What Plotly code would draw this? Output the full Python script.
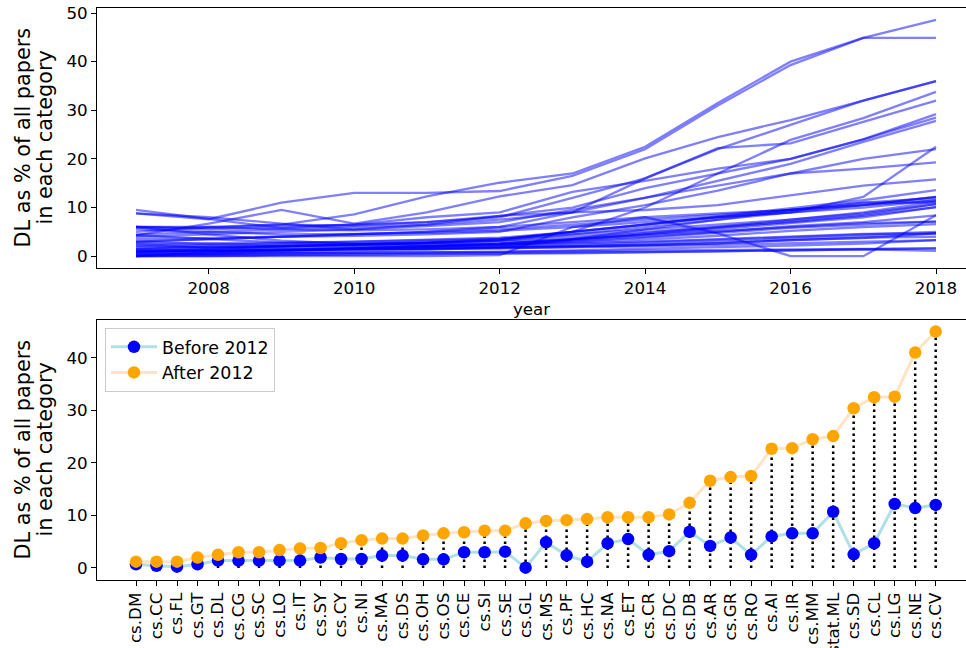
import plotly.graph_objects as go

# ---------------- data ----------------
years = [2007, 2008, 2009, 2010, 2011, 2012, 2013, 2014, 2015, 2016, 2017, 2018]

categories = ["cs.DM", "cs.CC", "cs.FL", "cs.GT", "cs.DL", "cs.CG", "cs.SC", "cs.LO", "cs.IT", "cs.SY",
              "cs.CY", "cs.NI", "cs.MA", "cs.DS", "cs.OH", "cs.OS", "cs.CE", "cs.SI", "cs.SE", "cs.GL",
              "cs.MS", "cs.PF", "cs.HC", "cs.NA", "cs.ET", "cs.CR", "cs.DC", "cs.DB", "cs.AR", "cs.GR",
              "cs.RO", "cs.AI", "cs.IR", "cs.MM", "stat.ML", "cs.SD", "cs.CL", "cs.LG", "cs.NE", "cs.CV"]

before_2012 = [0.7, 0.4, 0.25, 0.7, 1.4, 1.4, 1.4, 1.4, 1.4, 2.0,
               1.7, 1.7, 2.35, 2.35, 1.65, 1.65, 3.0, 3.0, 3.1, 0.06,
               4.9, 2.4, 1.2, 4.7, 5.5, 2.5, 3.2, 6.9, 4.2, 5.8,
               2.5, 6.0, 6.6, 6.6, 10.7, 2.6, 4.7, 12.2, 11.4, 12.0]

after_2012 = [1.2, 1.2, 1.2, 2.0, 2.5, 3.0, 3.0, 3.4, 3.7, 3.8,
              4.7, 5.3, 5.6, 5.6, 6.2, 6.6, 6.8, 7.1, 7.1, 8.5,
              8.95, 9.1, 9.3, 9.65, 9.65, 9.65, 10.2, 12.4, 16.6, 17.3,
              17.5, 22.7, 22.8, 24.5, 25.1, 30.4, 32.5, 32.6, 41.0, 45.0]

# yearly DL share per category (2007..2018), same order as `categories`
yearly_share = [
    [0.3, 0.5, 0.6, 0.7, 0.8, 0.9, 1.0, 1.1, 1.2, 1.3, 1.5, 1.6],        # cs.DM
    [0.0, 0.2, 0.3, 0.4, 0.5, 0.6, 0.8, 0.9, 1.0, 1.2, 1.4, 1.1],        # cs.CC
    [0.0, 0.0, 0.2, 0.3, 0.3, 0.4, 0.6, 0.8, 1.0, 1.2, 1.5, 1.6],        # cs.FL
    [0.5, 0.4, 0.6, 0.7, 0.8, 0.9, 1.2, 1.5, 1.8, 2.2, 2.6, 3.3],        # cs.GT
    [1.0, 1.2, 1.3, 1.4, 1.5, 1.6, 1.8, 2.0, 2.3, 2.7, 3.0, 3.3],        # cs.DL
    [0.8, 1.0, 1.2, 1.4, 1.6, 1.8, 2.0, 2.3, 2.7, 3.2, 3.8, 4.0],        # cs.CG
    [1.5, 1.2, 1.3, 1.4, 1.5, 1.6, 1.9, 2.2, 2.6, 3.3, 3.7, 4.7],        # cs.SC
    [0.5, 1.0, 1.2, 1.5, 1.6, 1.8, 2.0, 2.4, 3.0, 3.6, 4.2, 4.7],        # cs.LO
    [0.8, 1.0, 1.2, 1.4, 1.6, 1.9, 2.3, 2.8, 3.3, 3.9, 4.5, 5.0],        # cs.IT
    [2.5, 1.8, 1.7, 1.8, 2.0, 2.3, 2.6, 3.0, 3.5, 4.1, 4.6, 4.7],        # cs.SY
    [0.0, 0.8, 1.2, 1.6, 2.0, 2.4, 2.8, 3.4, 4.2, 5.2, 6.0, 6.6],        # cs.CY
    [1.0, 1.2, 1.4, 1.7, 2.0, 2.3, 3.0, 3.8, 4.8, 5.8, 6.5, 7.1],        # cs.NI
    [2.0, 1.8, 2.0, 2.3, 2.6, 3.0, 3.5, 4.3, 5.2, 6.0, 6.8, 7.1],        # cs.MA
    [3.0, 2.5, 2.2, 2.2, 2.4, 2.6, 3.2, 4.0, 5.0, 6.2, 7.0, 8.4],        # cs.DS
    [0.0, 0.5, 1.0, 1.5, 2.0, 2.6, 3.5, 4.5, 5.5, 6.8, 8.0, 10.1],       # cs.OH
    [1.2, 1.0, 1.3, 1.6, 2.0, 2.4, 3.3, 4.5, 5.8, 7.2, 8.5, 10.7],       # cs.OS
    [4.3, 3.5, 2.8, 2.6, 2.8, 3.2, 4.0, 5.0, 6.0, 7.0, 8.3, 10.1],       # cs.CE
    [2.0, 2.3, 2.6, 2.9, 3.2, 3.6, 4.5, 5.5, 6.5, 7.5, 8.8, 10.7],       # cs.SI
    [6.0, 4.5, 3.2, 2.5, 2.3, 2.6, 3.5, 4.8, 6.0, 7.5, 9.0, 11.2],       # cs.SE
    [0.0, 0.0, 0.0, 0.0, 0.0, 0.2, 6.0, 8.0, 4.7, 0.0, 0.0, 8.4],        # cs.GL
    [5.5, 5.0, 4.5, 4.6, 4.8, 5.2, 6.0, 7.0, 8.0, 9.0, 10.0, 11.5],      # cs.MS
    [1.0, 1.5, 2.0, 2.3, 2.7, 3.2, 4.5, 6.0, 7.5, 9.0, 10.5, 12.2],      # cs.PF
    [0.3, 0.5, 0.8, 1.0, 1.3, 1.8, 3.5, 5.5, 7.5, 9.5, 11.0, 11.0],      # cs.HC
    [3.0, 3.5, 4.0, 4.5, 5.0, 5.5, 6.5, 7.5, 8.5, 9.5, 10.5, 11.5],      # cs.NA
    [6.0, 6.0, 5.5, 5.3, 5.5, 6.0, 7.0, 8.0, 8.8, 9.5, 10.5, 12.2],      # cs.ET
    [1.5, 1.8, 2.0, 2.3, 2.7, 3.3, 5.0, 6.5, 8.0, 9.5, 11.0, 12.0],      # cs.CR
    [2.5, 2.6, 2.8, 3.0, 3.4, 3.8, 5.0, 6.5, 8.2, 9.8, 11.5, 13.6],      # cs.DC
    [8.8, 8.0, 6.7, 5.5, 6.5, 8.3, 9.0, 9.5, 10.5, 12.5, 14.5, 15.8],    # cs.DB
    [3.5, 3.8, 4.0, 4.2, 4.5, 5.0, 8.0, 10.5, 13.5, 17.0, 18.0, 19.3],   # cs.AR
    [4.0, 4.5, 5.0, 5.5, 6.2, 7.0, 9.5, 12.0, 14.5, 17.0, 20.0, 22.0],   # cs.GR
    [1.5, 2.0, 2.2, 2.5, 2.8, 3.5, 5.0, 6.5, 8.0, 9.0, 12.2, 22.5],      # cs.RO
    [4.5, 5.0, 5.5, 6.0, 6.5, 7.5, 9.0, 12.0, 15.5, 19.0, 23.5, 27.8],   # cs.AI
    [6.0, 5.5, 6.0, 6.5, 7.0, 8.3, 10.0, 14.0, 17.0, 20.0, 24.0, 28.5],  # cs.IR
    [5.0, 6.0, 6.5, 6.3, 7.0, 8.0, 12.0, 16.0, 22.2, 23.2, 27.6, 32.0],  # cs.MM
    [9.5, 7.6, 5.8, 6.5, 8.0, 9.0, 13.2, 15.5, 18.0, 20.0, 24.0, 29.2],  # stat.ML
    [1.0, 1.5, 2.0, 2.5, 3.0, 3.5, 5.0, 10.0, 17.0, 23.9, 28.4, 33.8],   # cs.SD
    [3.0, 3.5, 4.0, 4.5, 5.0, 6.0, 9.0, 16.0, 22.0, 27.0, 32.0, 36.0],   # cs.CL
    [4.3, 6.7, 9.5, 6.7, 9.0, 12.3, 14.6, 20.1, 24.5, 28.0, 32.0, 36.0], # cs.LG
    [8.8, 7.6, 11.0, 13.0, 13.0, 13.4, 16.5, 22.0, 31.0, 39.3, 44.9, 44.9],  # cs.NE
    [6.0, 5.8, 6.5, 8.6, 12.3, 15.1, 17.0, 22.5, 31.5, 40.0, 44.9, 48.6],    # cs.CV
]

ytitle_lines = ["DL as % of all papers", "in each category"]

# ---------------- figure ----------------
FONT = "DejaVu Sans"
TICK_FS = 16.7
LABEL_FS = 20.8
LEGEND_FS = 17.4
W, H = 966, 648
ML, MR, MT, MB = 97, 0, 8, 68
PW = W - ML - MR
PH = H - MT - MB

fig = go.Figure()

# top panel: one line per category
for row in yearly_share:
    fig.add_trace(go.Scatter(
        x=years, y=row, mode="lines", xaxis="x", yaxis="y",
        line=dict(color="rgba(0,0,255,0.5)", width=2.3),
        showlegend=False, hoverinfo="skip"))

# bottom panel
idx = list(range(len(categories)))
vx, vy = [], []
for i, a in zip(idx, after_2012):
    vx += [i, i, None]
    vy += [0, a, None]
fig.add_trace(go.Scatter(
    x=vx, y=vy, mode="lines", xaxis="x2", yaxis="y2",
    line=dict(color="black", width=2.5, dash="2.5px,3.5px"),
    showlegend=False, hoverinfo="skip"))

fig.add_trace(go.Scatter(
    x=idx, y=before_2012, mode="lines+markers", name="Before 2012",
    xaxis="x2", yaxis="y2",
    line=dict(color="#b0e0e6", width=3),
    marker=dict(color="blue", size=12.5)))
fig.add_trace(go.Scatter(
    x=idx, y=after_2012, mode="lines+markers", name="After 2012",
    xaxis="x2", yaxis="y2",
    line=dict(color="#ffe4c4", width=3),
    marker=dict(color="orange", size=12.5)))

axis_common = dict(
    showgrid=False, zeroline=False, showline=True, linecolor="black", linewidth=1,
    ticks="outside", ticklen=5, tickwidth=1, tickcolor="black", automargin=False,
    tickfont=dict(family=FONT, size=TICK_FS, color="black"),
)

# y-axis titles as two rotated lines (pixel positions converted to paper coords)
def px_x(px):
    return (px - ML) / PW

def px_y(py):
    return (H - MB - py) / PH

annotations = []
for center_y in (138, 450):
    for line, cx in zip(ytitle_lines, (22.5, 44.5)):
        annotations.append(dict(
            text=line, textangle=-90, showarrow=False,
            xref="paper", yref="paper", x=px_x(cx), y=px_y(center_y),
            xanchor="center", yanchor="middle",
            font=dict(family=FONT, size=LABEL_FS, color="black")))

fig.update_layout(
    width=W, height=H,
    margin=dict(l=ML, r=MR, t=MT, b=MB),
    paper_bgcolor="white", plot_bgcolor="white",
    font=dict(family=FONT, size=TICK_FS, color="black"),
    xaxis=dict(domain=[0, 1], anchor="y", range=[2006.4637, 2018.4125],
               tickvals=[2008, 2010, 2012, 2014, 2016, 2018], mirror=True,
               title=dict(text="year", standoff=6, font=dict(family=FONT, size=TICK_FS)),
               **axis_common),
    yaxis=dict(domain=[px_y(268), 1], anchor="x", range=[-2.43, 51.03],
               tickvals=[0, 10, 20, 30, 40, 50], **axis_common),
    xaxis2=dict(domain=[0, 1], anchor="y2", range=[-1.902, 40.478],
                tickvals=idx, ticktext=categories, tickangle=-90, mirror=True,
                **axis_common),
    yaxis2=dict(domain=[0, px_y(320)], anchor="x2", range=[-2.29, 47.2],
                tickvals=[0, 10, 20, 30, 40], **axis_common),
    legend=dict(x=px_x(105), y=px_y(328), xanchor="left", yanchor="top",
                bgcolor="rgba(255,255,255,0.8)", bordercolor="#cccccc", borderwidth=1,
                font=dict(family=FONT, size=LEGEND_FS), traceorder="normal",
                itemwidth=46),
    annotations=annotations,
)

fig.write_html("out.html", config={"displayModeBar": False},
               post_script="document.body.style.margin='0px';document.body.style.padding='0px';")
